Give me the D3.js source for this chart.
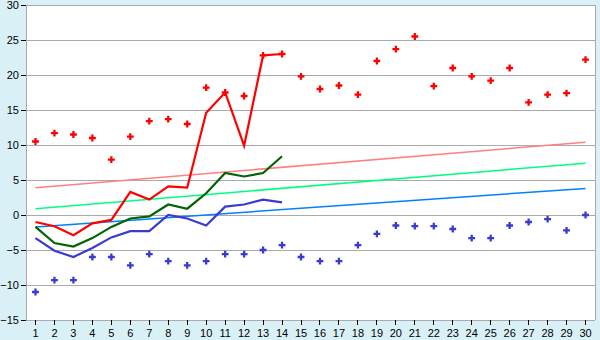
<!DOCTYPE html>
<head>
    <meta charset="UTF-8" />
    <style>
        body { margin: 0; padding: 0; background: #daf0f7; }
        svg { display: block; font-family: "DejaVu Sans", Verdana, sans-serif; }
        .grid line { stroke: #aaaaaa; stroke-width: 1px; shape-rendering: crispEdges; }
        .axis text { font-size: 11px; fill: #000; }
        .axis line { stroke: #000; shape-rendering: crispEdges; }
        .axis path { display: none; }
    </style>
    <title>chart</title>
</head>

<svg width="600" height="340"></svg>
<script src="https://d3js.org/d3.v7.min.js"></script>

<script>
    var days = d3.range(1, 31)
    var yTicks = [-15, -10, -5, 0, 5, 10, 15, 20, 25, 30]

    // scatter points
    var redPoints = [10.5, 11.7, 11.5, 11.0, 7.9, 11.2, 13.4, 13.7, 13.0, 18.2,
        17.5, 17.0, 22.8, 23.0, 19.8, 18.0, 18.5, 17.2, 22.0, 23.7,
        25.5, 18.4, 21.0, 19.8, 19.2, 21.0, 16.1, 17.2, 17.4, 22.2]
    var bluePoints = [-11.0, -9.3, -9.3, -6.0, -6.0, -7.2, -5.6, -6.6, -7.2, -6.6,
        -5.6, -5.6, -5.0, -4.3, -6.0, -6.6, -6.6, -4.3, -2.7, -1.5,
        -1.6, -1.6, -2.0, -3.3, -3.3, -1.5, -1.0, -0.6, -2.2, 0.0]

    // lines (first 14 days)
    var redLine = [-1.0, -1.6, -2.9, -1.2, -0.7, 3.3, 2.2, 4.1, 3.9, 14.6, 17.5, 9.9, 22.8, 23.0]
    var greenLine = [-1.7, -4.0, -4.5, -3.3, -1.7, -0.5, -0.2, 1.5, 0.9, 3.1, 6.0, 5.5, 6.0, 8.4]
    var blueLine = [-3.3, -5.1, -6.0, -4.7, -3.2, -2.3, -2.3, 0.0, -0.5, -1.5, 1.2, 1.5, 2.2, 1.8]

    // trend lines: value at day 1 and day 30
    var trendRed = [3.9, 10.4]
    var trendGreen = [0.9, 7.4]
    var trendBlue = [-1.7, 3.8]

    var svg = d3.select("svg")
    var mLeft = 26, mRight = 595, mTop = 5, mBottom = 320

    var x = d3.scaleBand().domain(days).range([mLeft, mRight])
    var y = d3.scaleLinear().domain([-15, 30]).range([mBottom, mTop])
    var cx = d => x(d) + x.bandwidth() / 2

    svg.append("rect")
        .attr("x", mLeft).attr("y", mTop)
        .attr("width", mRight - mLeft).attr("height", mBottom - mTop)
        .attr("fill", "#fff")

    svg.append("g").attr("class", "grid")
        .selectAll("line").data(yTicks).enter().append("line")
        .attr("x1", mLeft).attr("x2", mRight)
        .attr("y1", d => Math.round(y(d)) + 0.5).attr("y2", d => Math.round(y(d)) + 0.5)

    svg.append("g").attr("class", "grid")
        .append("line")
        .attr("x1", mRight + 0.5).attr("x2", mRight + 0.5)
        .attr("y1", mTop).attr("y2", mBottom)
    svg.append("g").attr("class", "grid")
        .append("line")
        .attr("x1", mLeft + 0.5).attr("x2", mLeft + 0.5)
        .attr("y1", mTop).attr("y2", mBottom)

    svg.append("g").attr("class", "axis")
        .attr("transform", "translate(" + mLeft + ",0)")
        .call(d3.axisLeft(y).tickValues(yTicks).tickSize(5).tickPadding(2))

    svg.append("g").attr("class", "axis")
        .attr("transform", "translate(0," + mBottom + ")")
        .call(d3.axisBottom(x).tickSize(5).tickPadding(4))

    // trend lines
    var trends = [[trendRed, "#ff8080"], [trendGreen, "#00ff80"], [trendBlue, "#0080ff"]]
    trends.forEach(function (t) {
        svg.append("line")
            .attr("x1", cx(1)).attr("y1", y(t[0][0]))
            .attr("x2", cx(30)).attr("y2", y(t[0][1]))
            .attr("stroke", t[1]).attr("stroke-width", 1.5)
    })

    var line = d3.line().x((d, i) => cx(days[i])).y(d => y(d))
    var series = [[blueLine, "#3a3ad0"], [greenLine, "#006400"], [redLine, "#ff0000"]]
    series.forEach(function (s) {
        svg.append("path")
            .attr("d", line(s[0]))
            .attr("fill", "none")
            .attr("stroke", s[1])
            .attr("stroke-width", 2.2)
    })

    var sym = d3.symbol().type(d3.symbolCross).size(26)
    var pts = [[redPoints, "#ff0000"], [bluePoints, "#3a3ad0"]]
    pts.forEach(function (p) {
        svg.append("g").selectAll("path").data(p[0]).enter().append("path")
            .attr("d", sym)
            .attr("transform", (d, i) => "translate(" + cx(days[i]) + "," + y(d) + ")")
            .attr("fill", p[1])
    })
</script>
